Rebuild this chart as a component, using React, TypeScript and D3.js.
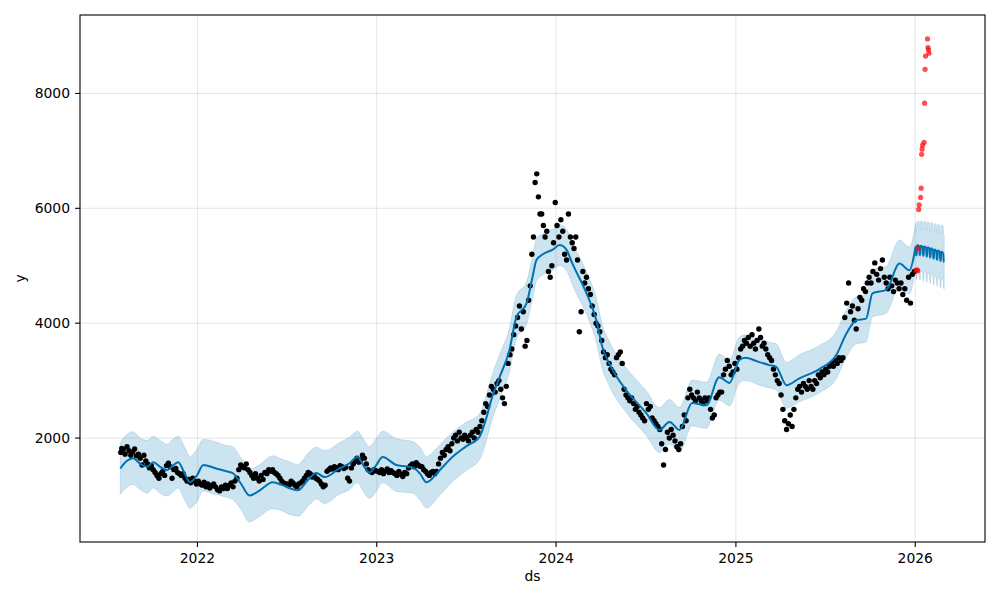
import React from "react";
import * as d3 from "d3";

// ---------- data ----------
const obsFirstDay = "2021-07-28";
const obsMonths = [
  "2021-07","2021-08","2021-09","2021-10","2021-11","2021-12",
  "2022-01","2022-02","2022-03","2022-04","2022-05","2022-06","2022-07","2022-08","2022-09","2022-10","2022-11","2022-12",
  "2023-01","2023-02","2023-03","2023-04","2023-05","2023-06","2023-07","2023-08","2023-09","2023-10","2023-11","2023-12",
  "2024-01","2024-02","2024-03","2024-04","2024-05","2024-06","2024-07","2024-08","2024-09","2024-10","2024-11","2024-12",
  "2025-01","2025-02","2025-03","2025-04","2025-05","2025-06","2025-07","2025-08","2025-09","2025-10","2025-11","2025-12",
];
const obsValues = [
  [1750, 1820],
  [1800, 1720, 1850, 1780, 1700, 1760, 1810, 1690],
  [1720, 1650, 1530, 1700, 1600, 1550, 1480, 1520],
  [1450, 1400, 1350, 1300, 1380, 1420, 1350, 1520],
  [1560, 1500, 1300, 1450, 1470, 1400, 1380, 1350],
  [1380, 1300, 1250, 1280, 1220, 1300, 1250, 1200],
  [1250, 1200, 1180, 1230, 1150, 1200, 1130, 1170],
  [1200, 1150, 1100, 1080, 1150, 1120, 1180],
  [1120, 1180, 1220, 1150, 1250, 1300, 1450, 1530],
  [1500, 1480, 1550, 1450, 1400, 1350, 1300, 1380],
  [1300, 1250, 1350, 1280, 1400, 1380, 1450, 1420],
  [1450, 1400, 1380, 1350, 1300, 1250, 1220, 1200],
  [1200, 1180, 1250, 1220, 1180, 1150, 1200, 1220],
  [1250, 1300, 1350, 1400, 1380, 1320, 1350, 1300],
  [1280, 1250, 1200, 1150, 1180, 1420, 1450, 1480],
  [1460, 1500, 1480, 1450, 1520, 1500, 1470, 1490],
  [1300, 1250, 1480, 1550, 1600, 1650, 1580, 1620],
  [1700, 1650, 1550, 1450, 1420, 1400, 1450, 1430],
  [1420, 1400, 1450, 1380, 1420, 1460, 1400, 1430],
  [1400, 1380, 1350, 1420, 1370, 1330, 1400],
  [1380, 1480, 1520, 1550, 1500, 1570, 1530, 1510],
  [1500, 1450, 1420, 1380, 1350, 1400, 1420, 1380],
  [1420, 1550, 1650, 1750, 1700, 1800, 1850, 1780],
  [1900, 2000, 2050, 1950, 2100, 2000, 1980, 2050],
  [2000, 1950, 2050, 2100, 2000, 2150, 2100, 2200],
  [2300, 2450, 2600, 2550, 2750, 2900, 2850, 2800],
  [2950, 3000, 2850, 2700, 2600, 2900, 3300, 3450],
  [3550, 3800, 3950, 4100, 4300, 3900, 4200, 3600],
  [3700, 4400, 4650, 5200, 5500, 6450, 6600, 6200, 5900],
  [5900, 5700, 5500, 5600, 4900, 4800, 5000, 5400, 6100],
  [5700, 5500, 5800, 5600, 5200, 5100, 5900, 5500],
  [5400, 5300, 5500, 5100, 3850, 4200, 4900, 4700],
  [4800, 4600, 4500, 4300, 4150, 4000, 3950, 3850],
  [3700, 3500, 3400, 3450, 3300, 3200, 3150, 3100],
  [3400, 3450, 3500, 3300, 2850, 2750, 2700, 2650],
  [2700, 2600, 2500, 2550, 2450, 2400, 2350, 2300],
  [2600, 2500, 2550, 2350, 2300, 2250, 2200, 2150],
  [1900, 1530, 1800, 2100, 2000, 2150, 2050, 1950],
  [1850, 1800, 1900, 2200, 2400, 2300, 2700, 2850],
  [2750, 2700, 2650, 2800, 2700, 2650, 2600, 2700],
  [2650, 2700, 2500, 2350, 2400, 2700, 2750, 2800],
  [2800, 3100, 3200, 3350, 3250, 3100, 3150, 3300],
  [3200, 3400, 3550, 3600, 3700, 3650, 3750, 3600],
  [3800, 3650, 3550, 3700, 3900, 3750, 3600, 3650],
  [3550, 3450, 3400, 3350, 3200, 3100, 3000, 2950],
  [2750, 2500, 2300, 2150, 2250, 2400, 2200, 2500],
  [2700, 2850, 2900, 2800, 2950, 2900, 2850, 3000],
  [2900, 2850, 3000, 2950, 3100, 3050, 3150, 3100],
  [3200, 3150, 3250, 3300, 3250, 3350, 3300, 3400],
  [3350, 3400, 4100, 4350, 4700, 4200, 4300, 4050],
  [3900, 4250, 4450, 4400, 4600, 4550, 4700, 4800],
  [4700, 4900, 5050, 4850, 4750, 4950, 5100, 4800],
  [4700, 4600, 4800, 4650, 4550, 4750, 4700, 4600],
  [4700, 4500, 4600, 4400, 4800, 4350, 4850, 4900],
];

const lineDates = [
  "2021-07-28","2021-08-10","2021-08-23","2021-09-08","2021-09-21","2021-10-03","2021-10-17","2021-10-31",
  "2021-11-12","2021-11-23","2021-12-05","2021-12-17","2021-12-31","2022-01-13","2022-02-05","2022-02-25",
  "2022-03-14","2022-03-31","2022-04-17","2022-05-08","2022-06-03","2022-06-23","2022-07-10","2022-07-24",
  "2022-08-17","2022-08-31","2022-09-17","2022-10-17","2022-11-05","2022-11-23","2022-12-05","2022-12-17",
  "2022-12-31","2023-01-13","2023-02-10","2023-03-15","2023-03-30","2023-04-12","2023-05-09","2023-06-04",
  "2023-07-01","2023-07-29","2023-08-12","2023-08-22","2023-09-08","2023-09-28","2023-10-12","2023-11-02",
  "2023-11-14","2023-11-22","2023-12-05","2023-12-25","2024-01-08","2024-01-22","2024-02-03","2024-03-03",
  "2024-03-23","2024-04-04","2024-04-18","2024-05-23","2024-07-03","2024-07-29","2024-08-19","2024-09-08",
  "2024-10-04","2024-11-02","2024-11-28","2024-12-19","2025-01-08","2025-01-20","2025-02-15","2025-03-10",
  "2025-03-24","2025-04-14","2025-05-10","2025-06-20","2025-07-24","2025-08-14","2025-09-03","2025-09-23",
  "2025-10-06","2025-11-03","2025-11-30","2025-12-20","2025-12-31",
];
const lineValues = [
  1470, 1600, 1650, 1540, 1500, 1580, 1500, 1440,
  1520, 1580, 1400, 1230, 1350, 1530, 1480, 1430,
  1390, 1200, 1000, 1090, 1230, 1180, 1120, 1090,
  1300, 1390, 1320, 1470, 1550, 1670, 1520, 1400,
  1530, 1670, 1530, 1490, 1380, 1230, 1440, 1670,
  1850, 2020, 2350, 2660, 3060, 3530, 4100, 4350,
  4800, 5100, 5200, 5280, 5360, 5280, 5040, 4520,
  4050, 3590, 3300, 2830, 2430, 2140, 2280, 2140,
  2610, 2570, 3060, 2960, 3360, 3400, 3330, 3270,
  3240, 2920, 3040, 3200, 3440, 3820, 4050, 4080,
  4520, 4580, 5040, 4920, 5250,
];
const lineHalf = [
  450, 460, 460, 450, 460, 450, 460, 450,
  460, 450, 460, 450, 460, 450, 460, 450,
  460, 450, 460, 450, 460, 450, 460, 450,
  460, 450, 460, 450, 460, 450, 460, 450,
  460, 450, 460, 450, 460, 450, 440, 430,
  420, 400, 400, 390, 390, 380, 380, 370,
  370, 370, 360, 360, 360, 360, 370, 370,
  380, 380, 390, 390, 390, 390, 390, 390,
  400, 400, 400, 400, 400, 400, 400, 400,
  400, 400, 410, 410, 410, 410, 410, 410,
  410, 410, 410, 410, 410,
];

const fcStart = "2026-01-01";
const fcValues = [
  5300, 5330, 5190, 5180, 5350, 5360, 5355, 5345, 5340, 5195, 5185,
  5345, 5350, 5345, 5335, 5325, 5185, 5175, 5330, 5335, 5330, 5320,
  5310, 5170, 5160, 5315, 5320, 5315, 5305, 5295, 5155, 5145, 5300,
  5305, 5295, 5285, 5275, 5135, 5125, 5280, 5285, 5275, 5265, 5255,
  5115, 5105, 5260, 5265, 5255, 5245, 5235, 5095, 5085, 5240, 5245,
  5235, 5225, 5215, 5075, 5065,
];
const fcHalfWeekly = [420, 430, 440, 445, 450, 455, 460, 465, 470];

const actualDates = [
  "2026-01-02","2026-01-05","2026-01-06","2026-01-07","2026-01-08","2026-01-09","2026-01-12",
  "2026-01-13","2026-01-14","2026-01-15","2026-01-16","2026-01-19","2026-01-20","2026-01-21",
  "2026-01-22","2026-01-26","2026-01-27","2026-01-28","2026-01-29",
];
const actualValues = [
  4920, 4930, 4910, 5300, 5980, 6060, 6190,
  6350, 6940, 7030, 7100, 7150, 7830, 8420,
  8650, 8950, 8800, 8760, 8700,
];

const xTickYears = [2022, 2023, 2024, 2025, 2026];
const yTicks = [2000, 4000, 6000, 8000];
const xDomain = ["2021-05-07", "2026-05-23"];
const yDomain = [190, 9366];

// ---------- chart ----------
const W = 1000, H = 600;
const M = { left: 80, top: 15, right: 985, bottom: 542 };
const FONT = "'DejaVu Sans', sans-serif";
const parse = d3.utcParse("%Y-%m-%d");

export default function App() {
  const x = d3.scaleUtc().domain(xDomain.map((d) => parse(d)!)).range([M.left, M.right]);
  const y = d3.scaleLinear().domain(yDomain).range([M.bottom, M.top]);

  const obsPoints = obsMonths.flatMap((m, i) => {
    const start = parse(m + "-01")!;
    const end = d3.utcMonth.offset(start, 1);
    const s = i === 0 ? parse(obsFirstDay)! : start;
    const vals = obsValues[i];
    return vals.map((v, j) => ({
      date: new Date(+s + ((j + 0.5) / vals.length) * (+end - +s)),
      value: v,
    }));
  });

  const fcRows = lineDates.map((d, i) => ({
    date: parse(d)!,
    yhat: lineValues[i],
    half: lineHalf[i],
  }));
  const f0 = parse(fcStart)!;
  fcValues.forEach((v, i) => {
    fcRows.push({
      date: d3.utcDay.offset(f0, i),
      yhat: v,
      half: fcHalfWeekly[Math.floor(i / 7)],
    });
  });

  const area = d3
    .area<any>()
    .x((d) => x(d.date))
    .y0((d) => y(d.yhat - d.half))
    .y1((d) => y(d.yhat + d.half))
    .curve(d3.curveMonotoneX);
  const line = d3
    .line<any>()
    .x((d) => x(d.date))
    .y((d) => y(d.yhat))
    .curve(d3.curveMonotoneX);

  const actual = actualDates.map((d, i) => ({ date: parse(d)!, value: actualValues[i] }));

  const fs = 13.9;
  return (
    <svg width={W} height={H} style={{ position: "absolute", left: 0, top: 0, background: "#fff" }}>
      <defs>
        <clipPath id="plot">
          <rect x={M.left} y={M.top} width={M.right - M.left} height={M.bottom - M.top} />
        </clipPath>
      </defs>
      <g clipPath="url(#plot)">
        <path d={area(fcRows) || ""} fill="rgba(0,114,178,0.2)" stroke="rgba(0,114,178,0.15)" strokeWidth={1} />
        {xTickYears.map((yr) => {
          const px = x(Date.UTC(yr, 0, 1));
          return <line key={yr} x1={px} x2={px} y1={M.top} y2={M.bottom} stroke="rgba(128,128,128,0.2)" strokeWidth={1} />;
        })}
        {yTicks.map((t) => (
          <line key={t} x1={M.left} x2={M.right} y1={y(t)} y2={y(t)} stroke="rgba(128,128,128,0.2)" strokeWidth={1} />
        ))}
        {obsPoints.map((p, i) => (
          <circle key={i} cx={x(p.date)} cy={y(p.value)} r={2.7} fill="#000" />
        ))}
        <path d={line(fcRows) || ""} fill="none" stroke="#0072B2" strokeWidth={2} />
        {actual.map((p, i) => (
          <circle key={i} cx={x(p.date)} cy={y(p.value)} r={2.6} fill="red" fillOpacity={0.7} />
        ))}
      </g>
      <rect x={M.left} y={M.top} width={M.right - M.left} height={M.bottom - M.top} fill="none" stroke="#000" strokeWidth={1.1} />
      {xTickYears.map((yr) => {
        const px = x(Date.UTC(yr, 0, 1));
        return (
          <g key={yr}>
            <line x1={px} x2={px} y1={M.bottom} y2={M.bottom + 4.9} stroke="#000" strokeWidth={1.1} />
            <text x={px} y={562.5} textAnchor="middle" fontFamily={FONT} fontSize={fs} fill="#000">
              {yr}
            </text>
          </g>
        );
      })}
      {yTicks.map((t) => (
        <g key={t}>
          <line x1={M.left - 4.9} x2={M.left} y1={y(t)} y2={y(t)} stroke="#000" strokeWidth={1.1} />
          <text x={M.left - 10} y={y(t) + 5} textAnchor="end" fontFamily={FONT} fontSize={fs} fill="#000">
            {t}
          </text>
        </g>
      ))}
      <text x={(M.left + M.right) / 2} y={581} textAnchor="middle" fontFamily={FONT} fontSize={fs} fill="#000">
        ds
      </text>
      <text
        transform={`translate(25,${(M.top + M.bottom) / 2}) rotate(-90)`}
        textAnchor="middle"
        fontFamily={FONT}
        fontSize={fs}
        fill="#000"
      >
        y
      </text>
    </svg>
  );
}
